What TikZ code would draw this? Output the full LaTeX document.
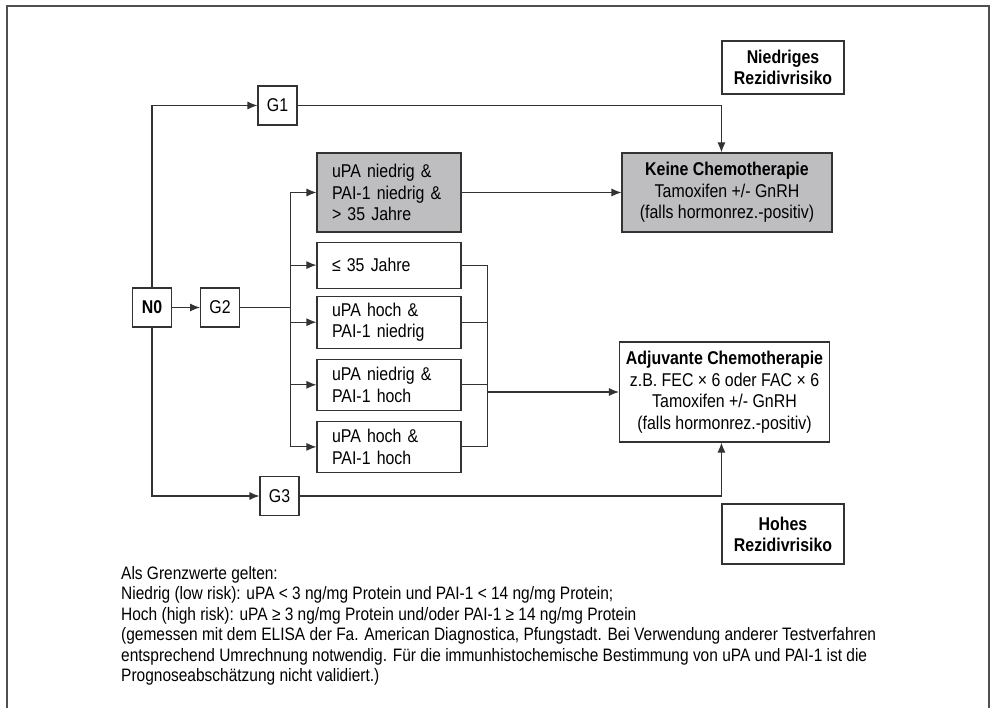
\documentclass[tikz,border=0pt]{standalone}
\usepackage{fontspec}
\setmainfont[FakeStretch=0.86]{Liberation Sans}
\usepackage{tikz}
\usetikzlibrary{positioning,arrows.meta,calc}
\usepackage{xcolor}
\definecolor{ink}{HTML}{333333}
\definecolor{shade}{HTML}{BEBEC0}
\definecolor{rim}{HTML}{505050}

\begin{document}
\begin{tikzpicture}[x=1pt, y=-1pt, >={Latex[length=10pt,width=8pt]},
      font=\fontsize{18.5}{21.5}\selectfont,
      box/.style={draw=ink, line width=1.1pt, align=left, inner xsep=15pt, inner ysep=0pt,
                  text width=114pt},
      gbox/.style={draw=ink, line width=1.1pt, minimum width=39pt, minimum height=39pt, inner sep=0pt},
      result/.style={draw=ink, line width=1.1pt, align=center, inner sep=0pt, minimum width=210pt},
      risk/.style={draw=ink, line width=1.1pt, align=center, inner sep=0pt, minimum width=122pt,
                   font=\fontsize{18.5}{21}\selectfont\bfseries},
      wire/.style={draw=ink, line width=1.1pt}]
    \useasboundingbox (0,0) rectangle (990,708);
    \draw[rim, line width=2pt] (7,716) -- (7,6) -- (989,6) -- (989,716);

    \node[gbox, font=\fontsize{18.5}{21.5}\selectfont\bfseries] (n0) at (152,307.5) {N0};
    \node[gbox, right=28pt of n0] (g2) {G2};
    \node[gbox] (g1) at (277.5,105.5) {G1};
    \node[gbox] (g3) at (279.5,496) {G3};

    \node[box, fill=shade, minimum height=79pt] (low) at (389,192.5)
        {uPA niedrig \&\\ PAI-1 niedrig \&\\ > 35 Jahre};
    \node[box, minimum height=46pt, below=9pt of low] (young) {≤ 35 Jahre};
    \node[box, minimum height=52pt, below=7pt of young] (hn) {uPA hoch \&\\ PAI-1 niedrig};
    \node[box, minimum height=51pt, below=10pt of hn] (nh) {uPA niedrig \&\\ PAI-1 hoch};
    \node[box, minimum height=51pt, below=10pt of nh] (hh) {uPA hoch \&\\ PAI-1 hoch};

    \node[result, fill=shade, minimum height=79pt] (keine) at (727,192.5)
        {\textbf{Keine Chemotherapie}\\ Tamoxifen +/- GnRH\\ (falls hormonrez.-positiv)};
    \node[result, minimum height=100pt] (adju) at (724.5,392)
        {\textbf{Adjuvante Chemotherapie}\\ z.B. FEC × 6 oder FAC × 6\\ Tamoxifen +/- GnRH\\ (falls hormonrez.-positiv)};
    \node[risk, minimum height=53pt] (nied) at (783,67.5) {Niedriges\\ Rezidivrisiko};
    \node[risk, minimum height=60pt] (hoch) at (783,534) {Hohes\\ Rezidivrisiko};

    \draw[wire, ->] (n0) -- (g2);
    \draw[wire, ->] (n0.north) |- (g1);
    \draw[wire, ->] (n0.south) |- (g3);
    \coordinate (fork) at ($(g2.east)+(50pt,0)$);
    \draw[wire] (g2) -- (fork);
    \draw[wire] (fork |- low) -- (fork |- hh);
    \foreach \b in {low,young,hn,nh,hh}
      \draw[wire, ->] (fork |- \b) -- (\b);
    \coordinate (merge) at ($(young.east)+(26pt,0)$);
    \foreach \b in {young,hn,nh,hh}
      \draw[wire] (\b) -- (merge |- \b);
    \draw[wire] (merge |- young) -- (merge |- hh);
    \draw[wire, ->] (merge |- adju) -- (adju);
    \draw[wire, ->] (low) -- (keine);
    \draw[wire, ->] (g1) -| (nied.west |- keine.north);
    \draw[wire, ->] (g3) -| (hoch.west |- adju.south);

    \node[anchor=north west, align=left, inner sep=0pt, font=\fontsize{18}{20.5}\selectfont] (note) at (121,566)
        {Als Grenzwerte gelten:\\
         Niedrig (low risk): uPA < 3 ng/mg Protein und PAI-1 < 14 ng/mg Protein;\\
         Hoch (high risk): uPA ≥ 3 ng/mg Protein und/oder PAI-1 ≥ 14 ng/mg Protein\\
         (gemessen mit dem ELISA der Fa. American Diagnostica, Pfungstadt. Bei Verwendung anderer Testverfahren\\
         entsprechend Umrechnung notwendig. Für die immunhistochemische Bestimmung von uPA und PAI-1 ist die\\
         Prognoseabschätzung nicht validiert.)};
  \end{tikzpicture}
\end{document}
